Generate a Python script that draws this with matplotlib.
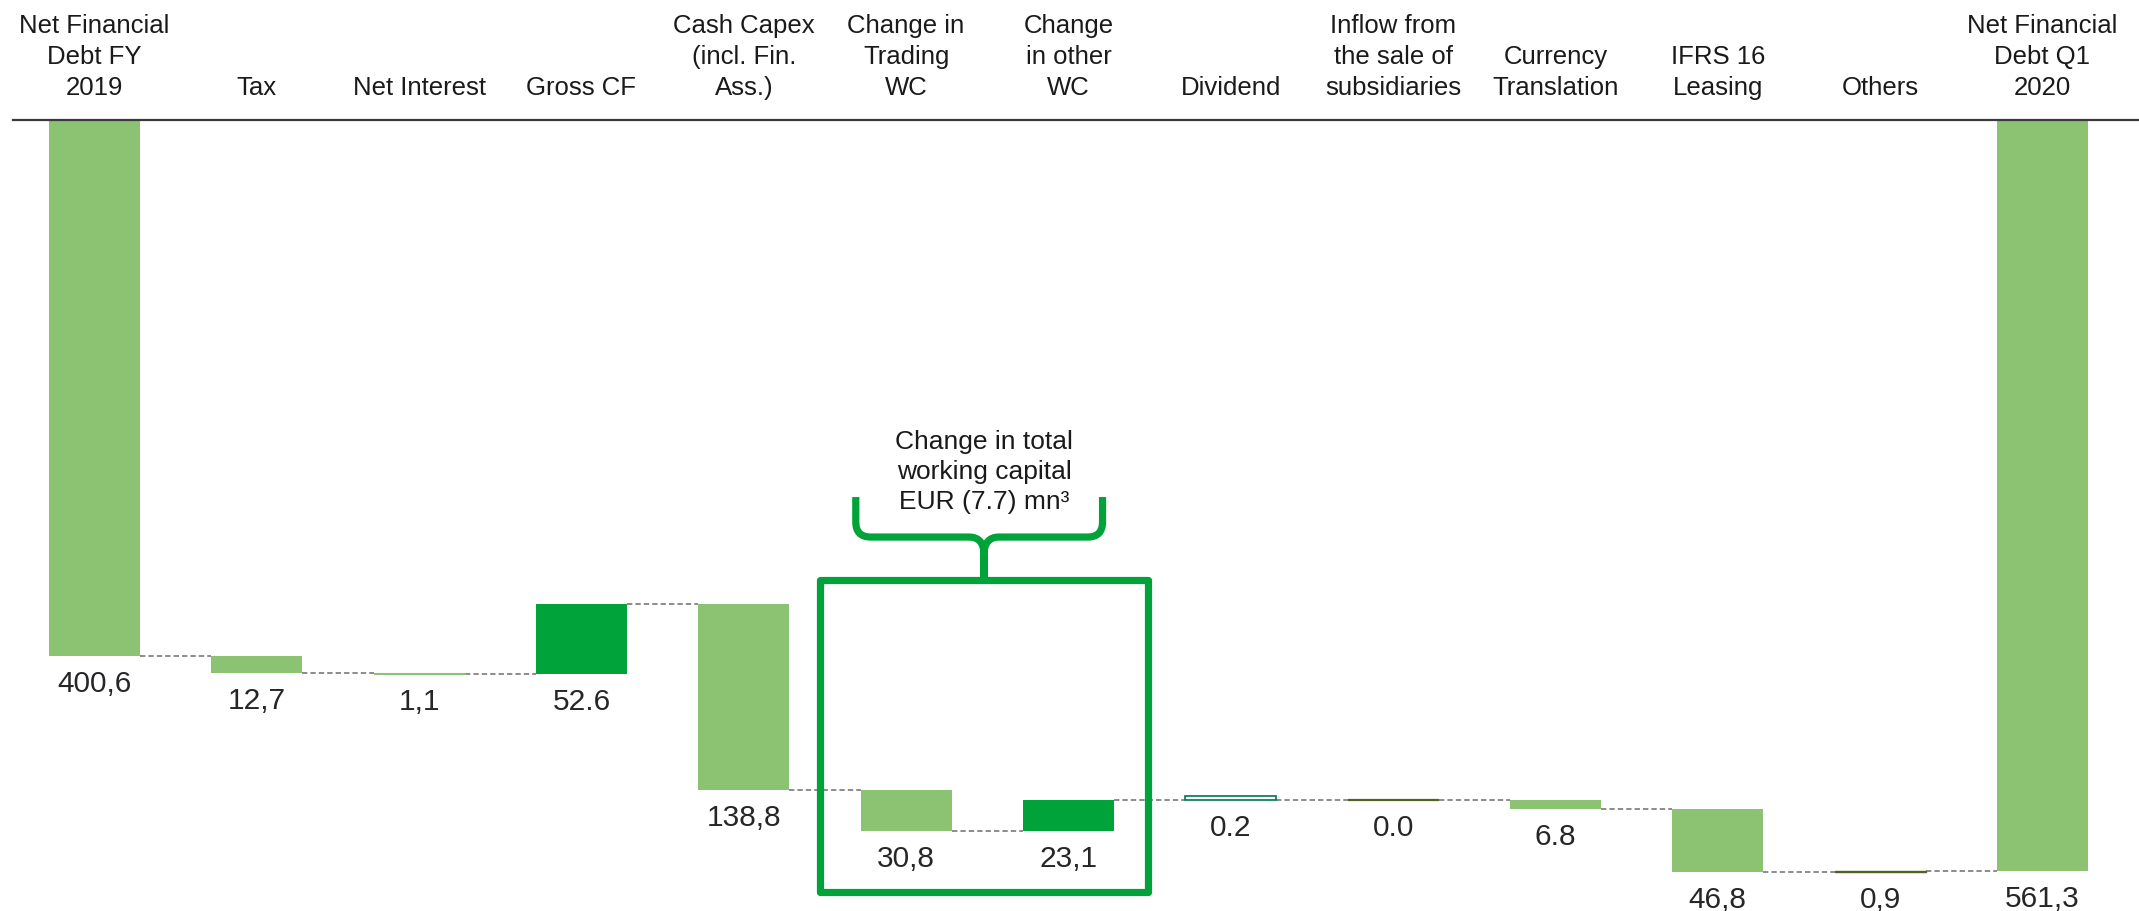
import matplotlib
matplotlib.use("Agg")
import matplotlib.pyplot as plt
from matplotlib.path import Path
from matplotlib.patches import PathPatch, Rectangle

plt.rcParams['font.family'] = ['Liberation Sans', 'DejaVu Sans']

# --- data ---
categories = ["Net Financial\nDebt FY\n2019", "Tax", "Net Interest", "Gross CF",
              "Cash Capex\n(incl. Fin.\nAss.)", "Change in\nTrading\nWC",
              "Change\nin other\nWC", "Dividend", "Inflow from\nthe sale of\nsubsidiaries",
              "Currency\nTranslation", "IFRS 16\nLeasing", "Others",
              "Net Financial\nDebt Q1\n2020"]
start_value = 400.6
changes = [12.7, 1.1, -52.6, 138.8, 30.8, -23.1, 0.2, 0.0, 6.8, 46.8, -0.9]
end_value = 561.3
value_labels = ["400,6", "12,7", "1,1", "52.6", "138,8", "30,8", "23,1",
                "0.2", "0.0", "6.8", "46,8", "0,9", "561,3"]
wc_note = "Change in total\nworking capital\nEUR (7.7) mn³"

# --- colours ---
light = '#8BC373'
dark = '#00A33A'
olive = '#4F6228'
teal = '#00774A'
styles = [
    dict(fc=light, ec='none', lw=0),   # FY 2019
    dict(fc=light, ec='none', lw=0),   # tax
    dict(fc=light, ec=light, lw=0.8),  # net interest
    dict(fc=dark, ec='none', lw=0),    # gross CF
    dict(fc=light, ec='none', lw=0),   # capex
    dict(fc=light, ec='none', lw=0),   # trading WC
    dict(fc=dark, ec='none', lw=0),    # other WC
    dict(fc='white', ec=teal, lw=1.2), # dividend
    dict(fc=olive, ec=olive, lw=1.6),  # inflow
    dict(fc=light, ec='none', lw=0),   # currency
    dict(fc=light, ec='none', lw=0),   # IFRS 16
    dict(fc=dark, ec=olive, lw=1.0),   # others
    dict(fc=light, ec='none', lw=0),   # Q1 2020
]

# bar spans (lo, hi) in data units
spans = [(0, start_value)]
level = start_value
for c in changes:
    spans.append((level, level + c))
    level += c
spans.append((0, end_value))

fig = plt.figure(figsize=(21.39, 9.11), dpi=100)
ax = fig.add_axes([0, 0, 1, 1])
ax.set_xlim(-0.582, 12.595)
ax.set_ylim(591.2, -89.7)
ax.axis('off')

width = 0.56
n = len(categories)
for i in range(n):
    lo, hi = spans[i]
    a, b = min(lo, hi), max(lo, hi)
    h = b - a
    if styles[i]['fc'] == 'white':
        # outlined small bar, keep it visible
        a = b - max(h, 3.5)
        h = b - a
    ax.bar(i, h, bottom=a, width=width, color=styles[i]['fc'],
           edgecolor=styles[i]['ec'], linewidth=styles[i]['lw'], zorder=3)
    ax.annotate(value_labels[i], (i, b), xytext=(0, -10), textcoords='offset points',
                ha='center', va='top', fontsize=21.5, color='#262626')
    ax.text(i, -15, categories[i], ha='center', va='bottom', fontsize=18.5,
            color='#1A1A1A', linespacing=1.36, multialignment='center')

# connectors
for i in range(n - 1):
    lev = spans[i][1]
    ax.plot([i + width / 2, i + 1 - width / 2], [lev, lev], color='#6E6E6E',
            lw=1.1, linestyle=(0, (3.5, 2)), zorder=2)

# top rule
ax.plot([-0.5, 12.7], [0, 0], color='#3A3A3A', lw=1.6, zorder=4)

# working capital box
box_l, box_r = 5 - 0.53, 6 + 0.49
box_t, box_b = 343.8, 577.0
ax.add_patch(Rectangle((box_l, box_t), box_r - box_l, box_b - box_t, fill=False,
                       edgecolor=dark, lw=5.2, joinstyle='round', zorder=5))

# curly brace above the box
cx = (box_l + box_r) / 2
bl, br = 4.69, 6.21
y_top, y_mid = 281.8, 311.7
rx, ry = 0.092, 11.2
verts = [(bl, y_top), (bl, y_mid - ry), (bl, y_mid), (bl + rx, y_mid),
         (cx - rx, y_mid), (cx, y_mid), (cx, y_mid + ry * 1.2), (cx, box_t),
         (br, y_top), (br, y_mid - ry), (br, y_mid), (br - rx, y_mid),
         (cx + rx, y_mid), (cx, y_mid), (cx, y_mid + ry * 1.2), (cx, box_t)]
codes = [Path.MOVETO, Path.LINETO, Path.CURVE3, Path.CURVE3,
         Path.LINETO, Path.CURVE3, Path.CURVE3, Path.LINETO] * 2
ax.add_patch(PathPatch(Path(verts, codes), fill=False, edgecolor=dark, lw=5.2,
                       capstyle='butt', joinstyle='round', zorder=5))

ax.text(cx, 263, wc_note, ha='center', va='center', fontsize=19,
        color='#1A1A1A', linespacing=1.31, multialignment='center')

fig.savefig('out.png', dpi=100)
